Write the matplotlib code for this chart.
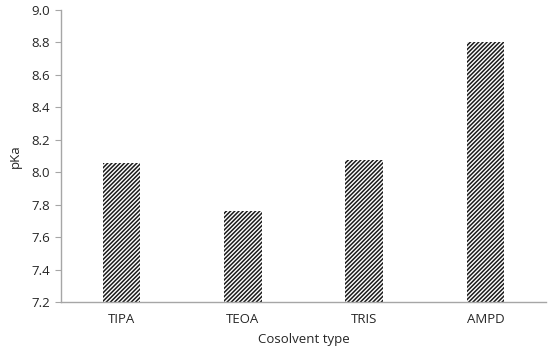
import matplotlib
matplotlib.use("Agg")
import matplotlib.pyplot as plt

# pKa by cosolvent
categories = ["TIPA", "TEOA", "TRIS", "AMPD"]
pka = [8.055, 7.76, 8.075, 8.80]

AXIS_GREY = '#a6a6a6'
TEXT = '#262626'

plt.rcParams['font.family'] = ['Open Sans', 'DejaVu Sans']
plt.rcParams['hatch.linewidth'] = 1.1
plt.rcParams['hatch.color'] = '#1a1a1a'

fig = plt.figure(figsize=(5.5, 3.52), dpi=100)
ax = fig.add_axes([0.111, 0.142, 0.882, 0.830])

ax.bar(range(len(categories)), pka, width=0.31, bottom=0,
       color='white', edgecolor='#1a1a1a', linewidth=0, hatch='////////')

ax.set_xlim(-0.5, len(categories) - 0.5)
ax.set_ylim(7.2, 9.0)
ax.set_yticks([7.2 + 0.2 * i for i in range(10)])
ax.set_yticklabels([f"{7.2 + 0.2 * i:.1f}" for i in range(10)])
ax.set_xticks(range(len(categories)))
ax.set_xticklabels(categories)

for side in ['top', 'right']:
    ax.spines[side].set_visible(False)
for side in ['left', 'bottom']:
    ax.spines[side].set_color(AXIS_GREY)
    ax.spines[side].set_linewidth(1.0)

ax.tick_params(axis='y', colors=AXIS_GREY, labelcolor=TEXT, labelsize=9.5,
               length=4, direction='out', pad=4)
ax.tick_params(axis='x', length=0, labelcolor=TEXT, labelsize=9.5, pad=8)

ax.set_ylabel("pKa", fontsize=9.5, color=TEXT, labelpad=7)
ax.set_xlabel("Cosolvent type", fontsize=9.5, color=TEXT, labelpad=5)

fig.savefig("out.png", dpi=100)
